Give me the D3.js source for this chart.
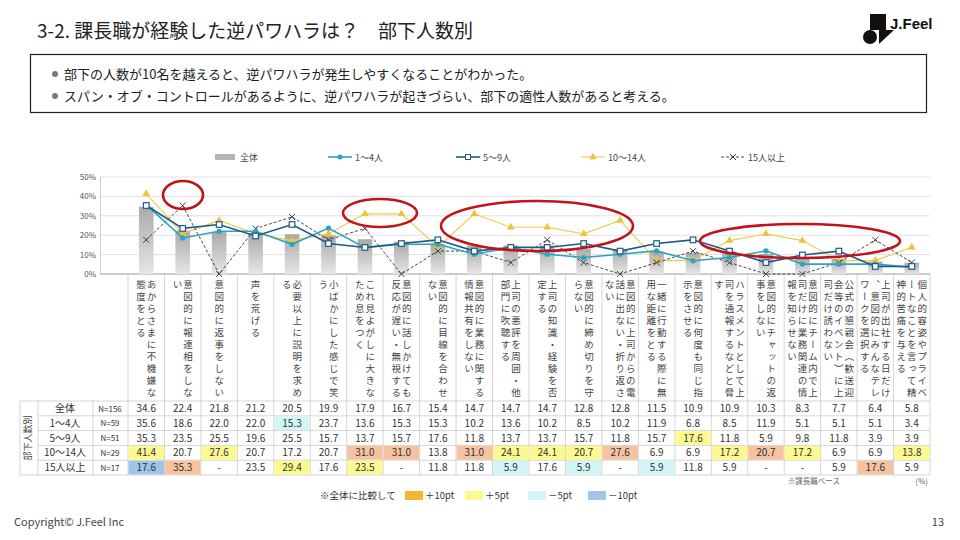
<!DOCTYPE html>
<html><head><meta charset="utf-8">
<script src="https://cdn.jsdelivr.net/npm/d3@7"></script>
<style>body{margin:0;background:#fff;font-family:"Noto Sans CJK JP",sans-serif}</style>
</head><body><svg id="c" width="960" height="540"></svg>
<script>
const categories=["あからさまに不機嫌な態度をとる","意図的に報連相をしない","意図的に返事をしない","声を荒げる","必要以上に説明を求める","小ばかにした感じで笑う","これ見よがしに大きなため息をつく","意図的に話しかけても反応が遅い・無視する","意図的に目線を合わせない","意図的に業務に関する情報共有をしない","上司の悪評を周囲・他部門に吹聴する","上司の知識・経験を否定する","意図的に締め切りを守らない","意図的に上司からの電話に出ない・折り返さない","一緒に行動する際に無用な距離をとる","意図的に何度も同じ指示をさせる","ハラスメントとして上司を通報するなどと脅す","意図的にチャットの返事をしない","意図的にチーム内で上司だけに業務関連の情報を知らせない","公式の懇親会（歓送迎会等のイベント）に上司だけ誘わない","上司が出社する日だけ、意図的にみんなテレワークを選択する","個人的容姿やプライベートなことを言って精神的苦痛を与える"];
const seriesNames=["全体","1～4人","5～9人","10～14人","15人以上"];
const seriesN=["N=156","N=59","N=51","N=29","N=17"];
const total=[34.6,22.4,21.8,21.2,20.5,19.9,17.9,16.7,15.4,14.7,14.7,14.7,12.8,12.8,11.5,10.9,10.9,10.3,8.3,7.7,6.4,5.8];
const s1to4=[35.6,18.6,22.0,22.0,15.3,23.7,13.6,15.3,15.3,10.2,13.6,10.2,8.5,10.2,11.9,6.8,8.5,11.9,5.1,5.1,5.1,3.4];
const s5to9=[35.3,23.5,25.5,19.6,25.5,15.7,13.7,15.7,17.6,11.8,13.7,13.7,15.7,11.8,15.7,17.6,11.8,5.9,9.8,11.8,3.9,3.9];
const s10to14=[41.4,20.7,27.6,20.7,17.2,20.7,31.0,31.0,13.8,31.0,24.1,24.1,20.7,27.6,6.9,6.9,17.2,20.7,17.2,6.9,6.9,13.8];
const s15plus=[17.6,35.3,0,23.5,29.4,17.6,23.5,0,11.8,11.8,5.9,17.6,5.9,0,5.9,11.8,5.9,0,0,5.9,17.6,5.9];
const yTicks=[0,10,20,30,40,50];
const rows=[total,s1to4,s5to9,s10to14,s15plus];

const svg=d3.select("#c");
svg.append("text").attr("x",37).attr("y",38).attr("font-size",19).attr("fill","#222").text("3-2. 課長職が経験した逆パワハラは？　部下人数別");
svg.append("rect").attr("x",870).attr("y",14).attr("width",16).attr("height",16).attr("fill","#111");
svg.append("circle").attr("cx",870).attr("cy",37).attr("r",7).attr("fill","#111");
svg.append("path").attr("d","M879,30 L894,30 L879,44 Z").attr("fill","#111");
svg.append("text").attr("x",890).attr("y",29).attr("font-size",15).attr("font-weight","bold").attr("font-family","Arial,Liberation Sans").attr("fill","#111").text("J.Feel");
svg.append("rect").attr("x",30.5).attr("y",54.5).attr("width",896).attr("height",58).attr("fill","none").attr("stroke","#222").attr("stroke-width",1.2);
["部下の人数が10名を越えると、逆パワハラが発生しやすくなることがわかった。","スパン・オブ・コントロールがあるように、逆パワハラが起きづらい、部下の適性人数があると考える。"].forEach((t,i)=>{
 svg.append("circle").attr("cx",55).attr("cy",74+i*22).attr("r",3).attr("fill","#777");
 svg.append("text").attr("x",64).attr("y",79+i*22).attr("font-size",13).attr("fill","#222").text(t);
});

const x=d3.scaleBand().domain(d3.range(22)).range([128,930]);
const y=d3.scaleLinear().domain([0,50]).range([274,177]);
svg.append("g").selectAll("line").data(yTicks).join("line").attr("x1",100).attr("x2",930).attr("y1",d=>y(d)).attr("y2",d=>y(d)).attr("stroke",d=>d==0?"#999":"#e2e2e2");
svg.append("line").attr("x1",100.5).attr("x2",100.5).attr("y1",177).attr("y2",274).attr("stroke","#ccc");
svg.append("g").selectAll("text").data(yTicks).join("text").attr("x",96).attr("y",d=>y(d)+3).attr("text-anchor","end").attr("font-size",8).attr("fill","#555").text(d=>d+"%");
const defs=svg.append("defs");
const g=defs.append("linearGradient").attr("id","bg").attr("x1",0).attr("x2",0).attr("y1",0).attr("y2",1);
g.append("stop").attr("offset","0%").attr("stop-color","#a9a9a9");
g.append("stop").attr("offset","100%").attr("stop-color","#e6e6e6");
svg.append("g").selectAll("rect").data(total).join("rect").attr("x",(d,i)=>x(i)+x.bandwidth()*0.3).attr("width",x.bandwidth()*0.4).attr("y",d=>y(d)).attr("height",d=>y(0)-y(d)).attr("fill","url(#bg)");
const cx=i=>x(i)+x.bandwidth()/2;
const line=d3.line().x((d,i)=>cx(i)).y(d=>y(d));
const styles=[null,{c:"#2ba5c3",w:1.6},{c:"#1f5a86",w:1.6},{c:"#f2c94c",w:1.1},{c:"#333",w:0.9,dash:"3,2"}];
[s10to14,s15plus,s1to4,s5to9].forEach(arr=>{
 const k=rows.indexOf(arr),st=styles[k];
 svg.append("path").datum(arr).attr("d",line).attr("fill","none").attr("stroke",st.c).attr("stroke-width",st.w).attr("stroke-dasharray",st.dash||null);
 const m=svg.append("g");
 arr.forEach((v,i)=>{
  const X=cx(i),Y=y(v);
  if(k==1) m.append("circle").attr("cx",X).attr("cy",Y).attr("r",2.6).attr("fill",st.c);
  if(k==2) m.append("rect").attr("x",X-2.8).attr("y",Y-2.8).attr("width",5.6).attr("height",5.6).attr("fill","#fff").attr("stroke",st.c).attr("stroke-width",1.2);
  if(k==3) m.append("path").attr("d",d3.symbol(d3.symbolTriangle,26)()).attr("transform",`translate(${X},${Y})`).attr("fill","#f0c23a");
  if(k==4) m.append("path").attr("d",`M${X-3},${Y-3}L${X+3},${Y+3}M${X-3},${Y+3}L${X+3},${Y-3}`).attr("stroke","#333").attr("stroke-width",0.9);
 });
});
const lg=[[237,0],[352,1],[480,2],[605,3],[745,4]];
lg.forEach(([lx,k])=>{
 const Y=157;
 if(k==0) svg.append("rect").attr("x",lx-22).attr("y",Y-3).attr("width",20).attr("height",6).attr("fill","#b5b5b5");
 else{
  const st=styles[k];
  svg.append("line").attr("x1",lx-24).attr("x2",lx).attr("y1",Y).attr("y2",Y).attr("stroke",st.c).attr("stroke-width",st.w).attr("stroke-dasharray",st.dash||null);
  const X=lx-12;
  if(k==1) svg.append("circle").attr("cx",X).attr("cy",Y).attr("r",2.5).attr("fill",st.c);
  if(k==2) svg.append("rect").attr("x",X-2.5).attr("y",Y-2.5).attr("width",5).attr("height",5).attr("fill","#fff").attr("stroke",st.c);
  if(k==3) svg.append("path").attr("d",d3.symbol(d3.symbolTriangle,24)()).attr("transform",`translate(${X},${Y})`).attr("fill","#f0c23a");
  if(k==4) svg.append("path").attr("d",`M${X-3},${Y-3}L${X+3},${Y+3}M${X-3},${Y+3}L${X+3},${Y-3}`).attr("stroke","#333");
 }
 svg.append("text").attr("x",lx+3).attr("y",Y+4).attr("font-size",9).attr("fill","#444").text(seriesNames[k]);
});
[[183,195,20,14],[380,213,37,14],[537,226,96,25],[800,241,100,17]].forEach(([a,b,c,d])=>svg.append("ellipse").attr("cx",a).attr("cy",b).attr("rx",c).attr("ry",d).attr("fill","none").attr("stroke","#c0141c").attr("stroke-width",2.6));

const labTop=280,hdrB=401,rh=14.8;
const gridC="#bbb";
svg.append("g").selectAll("line").data(d3.range(23)).join("line").attr("x1",i=>i<22?x(i):930).attr("x2",i=>i<22?x(i):930).attr("y1",274).attr("y2",hdrB+rh*5).attr("stroke",gridC).attr("stroke-width",0.6);
const lab=svg.append("g");
categories.forEach((t,i)=>{
 const cols=[];for(let s=0;s<t.length;s+=10)cols.push(t.slice(s,s+10));
 const w=10.5, x0=cx(i)+(Math.min(cols.length,3)-1)*w/2;
 cols.slice(0,3).forEach((c,j)=>{
  lab.append("text").attr("x",x0-j*w).attr("y",labTop).attr("style","writing-mode:vertical-rl;letter-spacing:2.5px").attr("font-size",9.5).attr("fill","#444").text(c);
 });
});
for(let r=0;r<=5;r++) svg.append("line").attr("x1",r==0||r==5?20:38).attr("x2",930).attr("y1",hdrB+r*rh).attr("y2",hdrB+r*rh).attr("stroke",gridC).attr("stroke-width",0.6);
[20,38,93].forEach(v=>svg.append("line").attr("x1",v).attr("x2",v).attr("y1",hdrB).attr("y2",hdrB+rh*5).attr("stroke",gridC).attr("stroke-width",0.6));
svg.append("text").attr("transform",`translate(29,${hdrB+rh*2.5}) rotate(-90)`).attr("text-anchor","middle").attr("dominant-baseline","middle").attr("font-size",9).attr("fill","#444").text("部下人数別");
const col=(v,t)=>{if(v===0)return null;const d=+(v-t).toFixed(1);return d>=10?"#f5c3a0":d>5?"#fbf98f":d<=-10?"#9fc5ea":d<-5?"#d2f5f5":null;};
rows.forEach((arr,r)=>{
 const Y=hdrB+r*rh;
 svg.append("text").attr("x",65).attr("y",Y+11).attr("text-anchor","middle").attr("font-size",10).attr("fill","#333").text(seriesNames[r]);
 svg.append("text").attr("x",110).attr("y",Y+10.5).attr("text-anchor","middle").attr("font-size",8).attr("fill","#333").text(seriesN[r]);
 arr.forEach((v,i)=>{
  const f=r>0?col(v,total[i]):null;
  if(f) svg.append("rect").attr("x",x(i)+0.5).attr("y",Y+0.5).attr("width",x.bandwidth()-1).attr("height",rh-1).attr("fill",f);
  svg.append("text").attr("x",cx(i)).attr("y",Y+11).attr("text-anchor","middle").attr("font-size",10).attr("fill","#333").text(v===0?"-":v.toFixed(1));
 });
});
svg.append("text").attr("x",840).attr("y",484).attr("text-anchor","end").attr("font-size",7.5).attr("fill","#666").text("※課長職ベース");
svg.append("text").attr("x",928).attr("y",484).attr("text-anchor","end").attr("font-size",8).attr("fill","#666").text("(%)");
svg.append("text").attr("x",320).attr("y",499).attr("font-size",9.5).attr("fill","#333").text("※全体に比較して");
[[405,"#f0b72f","＋10pt"],[465,"#fbf98f","＋5pt"],[528,"#d2f5f5","－5pt"],[588,"#9fc5ea","－10pt"]].forEach(([a,c,t])=>{
 svg.append("rect").attr("x",a).attr("y",491).attr("width",18).attr("height",9).attr("fill",c);
 svg.append("text").attr("x",a+20).attr("y",499).attr("font-size",9.5).attr("fill","#333").text(t);
});
svg.append("text").attr("x",14).attr("y",526).attr("font-size",11).attr("fill","#444").text("Copyright©  J.Feel Inc");
svg.append("text").attr("x",944).attr("y",526).attr("text-anchor","end").attr("font-size",11).attr("fill","#444").text("13");
</script></body></html>
